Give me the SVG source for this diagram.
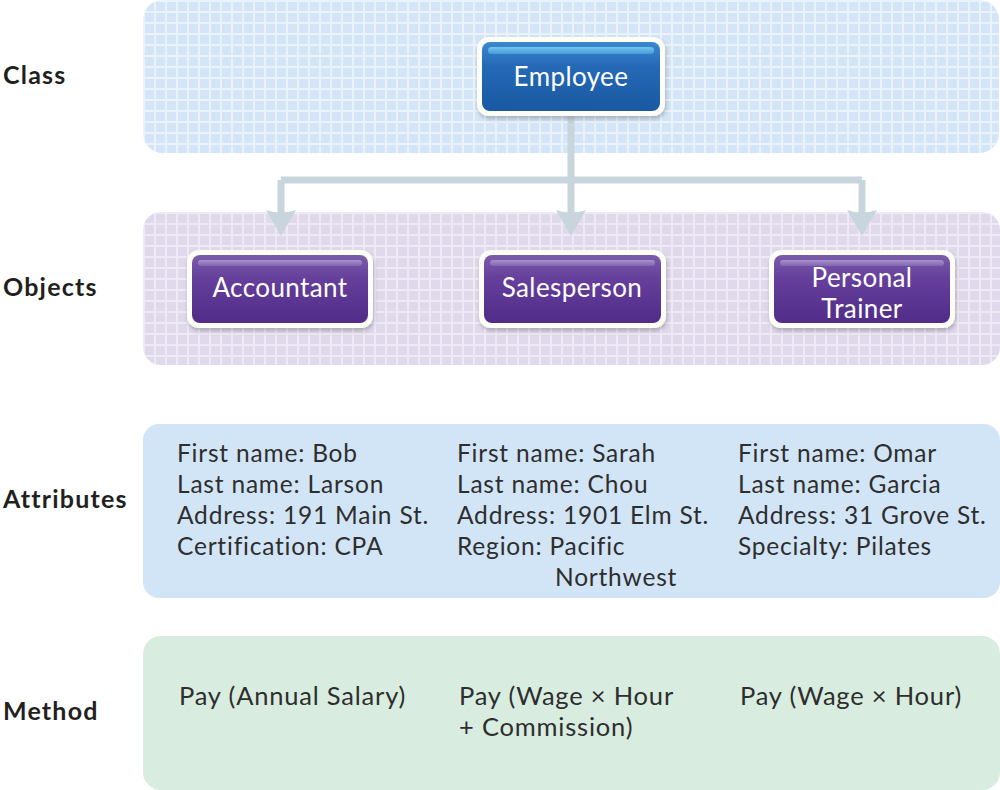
<svg xmlns="http://www.w3.org/2000/svg" width="1000" height="790" viewBox="0 0 1000 790">
<defs>
<style>
.lbl{font-family:Lato,"Liberation Sans",sans-serif;font-weight:bold;font-size:25px;letter-spacing:1.2px;fill:#231f20}
.ntx{font-family:Lato,"Liberation Sans",sans-serif;font-size:26px;letter-spacing:0.4px;fill:#ffffff;text-anchor:middle}
.txt{font-family:Lato,"Liberation Sans",sans-serif;font-size:24.5px;letter-spacing:0.8px;fill:#2e2e2e}
.mtx{font-family:Lato,"Liberation Sans",sans-serif;font-size:25.5px;letter-spacing:0.8px;fill:#2e2e2e}
.outer{fill:#fdfdf8;filter:url(#sh)}
.conn{fill:none;stroke:#c8d5dc;stroke-width:7}
</style>
<pattern id="gridB" width="11" height="11" patternUnits="userSpaceOnUse" x="143" y="0">
<rect width="11" height="11" fill="#eaf2fb"/><rect x="2" y="2" width="9" height="9" fill="#d3e5f6"/>
</pattern>
<pattern id="gridP" width="11" height="11" patternUnits="userSpaceOnUse" x="143" y="212">
<rect width="11" height="11" fill="#eeeaf5"/><rect x="2" y="2" width="9" height="9" fill="#e0d9ec"/>
</pattern>
<linearGradient id="gBlue" x1="0" y1="0" x2="0" y2="1">
<stop offset="0" stop-color="#3b88d0"/><stop offset="0.35" stop-color="#2569b6"/><stop offset="1" stop-color="#1a58a2"/>
</linearGradient>
<linearGradient id="gPurp" x1="0" y1="0" x2="0" y2="1">
<stop offset="0" stop-color="#7b5cab"/><stop offset="0.35" stop-color="#653f9b"/><stop offset="1" stop-color="#502b88"/>
</linearGradient>
<linearGradient id="hBlue" x1="0" y1="0" x2="0" y2="1">
<stop offset="0" stop-color="#6fc6f0"/><stop offset="1" stop-color="#4a9ad8"/>
</linearGradient>
<linearGradient id="hPurp" x1="0" y1="0" x2="0" y2="1">
<stop offset="0" stop-color="#a892cc"/><stop offset="1" stop-color="#8166b0"/>
</linearGradient>
<filter id="sh" x="-10%" y="-10%" width="120%" height="130%">
<feDropShadow dx="1" dy="3" stdDeviation="2" flood-color="#000" flood-opacity="0.22"/>
</filter>
<marker id="arr" viewBox="0 0 26 30" refX="12" refY="15" markerWidth="26" markerHeight="30" markerUnits="userSpaceOnUse" orient="auto">
<path d="M0,0 Q5,15 0,30 L26,15 Z" fill="#c8d5dc"/>
</marker>
</defs>
<rect width="1000" height="790" fill="#ffffff"/>

<g id="bands">
<rect x="143" y="0" width="856" height="153" rx="20" fill="url(#gridB)"/>
<rect x="143" y="212" width="857" height="153" rx="18" fill="url(#gridP)"/>
<rect x="143" y="424" width="857" height="174" rx="16" fill="#d2e5f6"/>
<rect x="143" y="636" width="857" height="154" rx="18" fill="#d8ede0"/>
</g>

<g id="row-labels">
<text class="lbl" x="3" y="84">Class</text>
<text class="lbl" x="3" y="296">Objects</text>
<text class="lbl" x="3" y="508">Attributes</text>
<text class="lbl" x="3" y="720">Method</text>
</g>

<g id="connectors">
<path class="conn" d="M571,114 V180 M281,180 H862"/>
<path class="conn" d="M281,180 V222" marker-end="url(#arr)"/>
<path class="conn" d="M571,180 V222" marker-end="url(#arr)"/>
<path class="conn" d="M862,180 V222" marker-end="url(#arr)"/>
</g>

<g id="employee">
<rect class="outer" x="477" y="37" width="188" height="79" rx="12"/>
<rect x="482" y="42" width="178" height="69" rx="8" fill="url(#gBlue)"/>
<rect x="488" y="47" width="166" height="7" rx="3.5" fill="url(#hBlue)"/>
<text class="ntx" x="571" y="86">Employee</text>
</g>

<g id="accountant">
<rect class="outer" x="187" y="250" width="186" height="78" rx="12"/>
<rect x="192" y="255" width="176" height="68" rx="8" fill="url(#gPurp)"/>
<rect x="198" y="260" width="164" height="6" rx="3" fill="url(#hPurp)"/>
<text class="ntx" x="280" y="297">Accountant</text>
</g>

<g id="salesperson">
<rect class="outer" x="479" y="250" width="187" height="78" rx="12"/>
<rect x="484" y="255" width="177" height="68" rx="8" fill="url(#gPurp)"/>
<rect x="490" y="260" width="165" height="6" rx="3" fill="url(#hPurp)"/>
<text class="ntx" x="572" y="297">Salesperson</text>
</g>

<g id="personal-trainer">
<rect class="outer" x="769" y="250" width="186" height="78" rx="12"/>
<rect x="774" y="255" width="176" height="68" rx="8" fill="url(#gPurp)"/>
<rect x="780" y="260" width="164" height="6" rx="3" fill="url(#hPurp)"/>
<text class="ntx" x="862" y="287">Personal</text>
<text class="ntx" x="862" y="318">Trainer</text>
</g>

<g id="attributes">
<text class="txt" x="177" y="462">First name: Bob</text>
<text class="txt" x="177" y="493">Last name: Larson</text>
<text class="txt" x="177" y="524">Address: 191 Main St.</text>
<text class="txt" x="177" y="555">Certification: CPA</text>
<text class="txt" x="457" y="462">First name: Sarah</text>
<text class="txt" x="457" y="493">Last name: Chou</text>
<text class="txt" x="457" y="524">Address: 1901 Elm St.</text>
<text class="txt" x="457" y="555">Region: Pacific</text>
<text class="txt" x="555" y="586">Northwest</text>
<text class="txt" x="738" y="462">First name: Omar</text>
<text class="txt" x="738" y="493">Last name: Garcia</text>
<text class="txt" x="738" y="524">Address: 31 Grove St.</text>
<text class="txt" x="738" y="555">Specialty: Pilates</text>
</g>

<g id="methods">
<text class="mtx" x="179" y="705">Pay (Annual Salary)</text>
<text class="mtx" x="459" y="705">Pay (Wage × Hour</text>
<text class="mtx" x="459" y="736">+ Commission)</text>
<text class="mtx" x="740" y="705">Pay (Wage × Hour)</text>
</g>
</svg>
